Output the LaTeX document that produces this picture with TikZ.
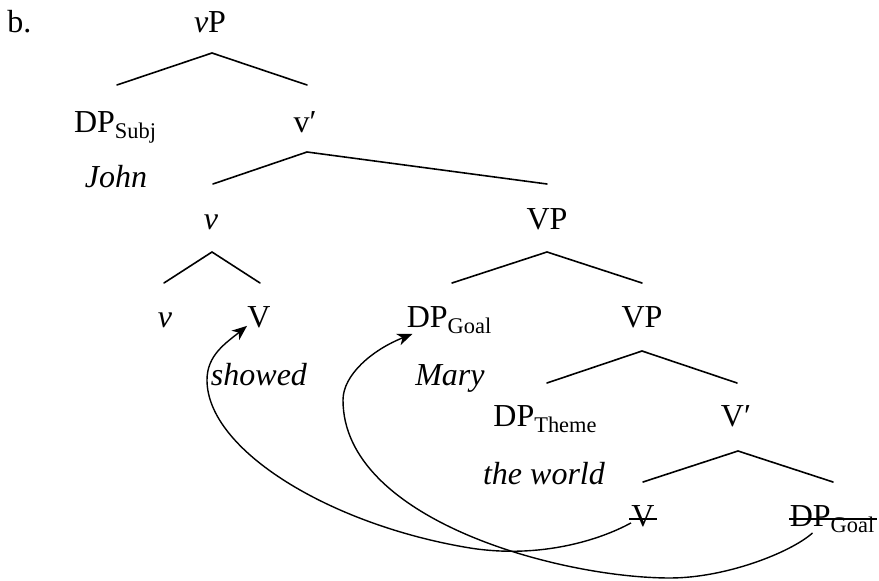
\documentclass[tikz,border=0pt]{standalone}
\usepackage{fontspec}
\setmainfont{Liberation Serif}
\usetikzlibrary{arrows.meta}
\newcommand{\sbs}[1]{\raisebox{-3pt}{\fontsize{11.2}{12}\selectfont #1}}
\begin{document}
\begin{tikzpicture}[x=0.5pt,y=-0.5pt,
  lbl/.style={anchor=base,inner sep=0pt,font=\fontsize{16}{19}\selectfont},
  branch/.style={line width=0.8pt,line cap=round},
  mv/.style={line width=0.7pt,-{Stealth[length=7.5pt,width=6pt,inset=2.2pt]}},
  strike/.style={line width=0.7pt}]
\useasboundingbox (0,0) rectangle (879,581);
% labels
\node[lbl,anchor=base west] (ex) at (7,33) {b.};
\node[lbl] (vP) at (210,33) {\textit{v}P};
\node[lbl] (DPs) at (115,133) {DP\sbs{Subj}};
\node[lbl] (vbar) at (305,133) {v′};
\node[lbl] (john) at (116,188) {\textit{John}};
\node[lbl] (vv) at (211,230) {\textit{v}};
\node[lbl] (VPa) at (547,230) {VP};
\node[lbl] (vh) at (165,328) {\textit{v}};
\node[lbl] (V) at (259,328) {V};
\node[lbl] (DPg) at (449,328) {DP\sbs{Goal}};
\node[lbl] (VPb) at (642,328) {VP};
\node[lbl] (showed) at (259,386) {\textit{showed}};
\node[lbl] (mary) at (450,386) {\textit{Mary}};
\node[lbl] (DPt) at (545,427) {DP\sbs{Theme}};
\node[lbl] (Vbar) at (736,427) {V′};
\node[lbl] (world) at (544,485) {\textit{the world}};
\node[lbl] (Vt) at (643,527) {V};
\node[lbl] (DPgt) at (832,527) {DP\sbs{Goal}};
% strike-through of traces
\draw[strike] ([xshift=-1pt,yshift=4pt]Vt.base west) -- ([xshift=1pt,yshift=4pt]Vt.base east);
\draw[strike] ([yshift=4pt]DPgt.base west) -- ([xshift=1pt,yshift=4pt]DPgt.base east);
% branches
\coordinate (a1) at (212,53);  \coordinate (l1) at (117,85);  \coordinate (r1) at (307,85);
\coordinate (a2) at (307,152); \coordinate (l2) at (213,184); \coordinate (r2) at (547,184);
\coordinate (a3) at (212,252); \coordinate (l3) at (164,283); \coordinate (r3) at (260,283);
\coordinate (a4) at (547,252); \coordinate (l4) at (452,283); \coordinate (r4) at (642,283);
\coordinate (a5) at (642,351); \coordinate (l5) at (547,383); \coordinate (r5) at (737,383);
\coordinate (a6) at (738,451); \coordinate (l6) at (643,482); \coordinate (r6) at (833,482);
\draw[branch] (l1) -- (a1) -- (r1);
\draw[branch] (l2) -- (a2) -- (r2);
\draw[branch] (l3) -- (a3) -- (r3);
\draw[branch] (l4) -- (a4) -- (r4);
\draw[branch] (l5) -- (a5) -- (r5);
\draw[branch] (l6) -- (a6) -- (r6);
% movement arrows
\coordinate (m1s) at ([yshift=2.5pt]Vt.south west);
\coordinate (m1e) at ([yshift=1.5pt]V.south west);
\draw[mv] (m1s) .. controls (600,540) and (540,559) .. (470,548)
  .. controls (330,525) and (207,450) .. (207,380)
  .. controls (207,355) and (226,343) .. (m1e);
\coordinate (m2s) at ([xshift=-9.75pt,yshift=-3pt]DPgt.base);
\coordinate (m2e) at ([xshift=3pt,yshift=-3pt]DPg.base west);
\draw[mv] (m2s) .. controls (790,553) and (725,578) .. (670,578)
  .. controls (560,578) and (343,520) .. (343,400)
  .. controls (343,375) and (372,350) .. (m2e);
\end{tikzpicture}
\end{document}
